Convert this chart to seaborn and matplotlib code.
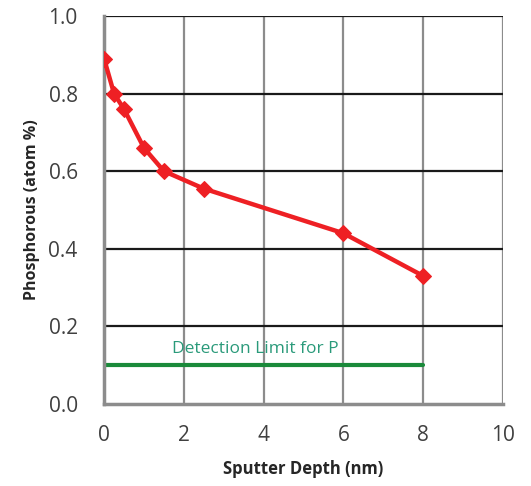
import numpy as np
import pandas as pd
import matplotlib
matplotlib.use("Agg")
import matplotlib.pyplot as plt
import seaborn as sns

# ── Data ──────────────────────────────────────────────
depth_nm = [0.0, 0.25, 0.5, 1.0, 1.5, 2.5, 6.0, 8.0]
phos_pct = [0.89, 0.80, 0.76, 0.66, 0.60, 0.555, 0.44, 0.33]
limit_x = [0.0, 8.0]
limit_y = [0.1, 0.1]
x_ticks = [0, 2, 4, 6, 8, 10]
y_ticks = [0.0, 0.2, 0.4, 0.6, 0.8, 1.0]

sns.set_style("white")
plt.rcParams["font.family"] = ["Open Sans", "DejaVu Sans"]

df = pd.DataFrame({"depth": depth_nm, "phos": phos_pct})
lim = pd.DataFrame({"x": limit_x, "y": limit_y})

fig = plt.figure(figsize=(5.31, 4.86), dpi=100)
ax = fig.add_axes([0.196, 0.169, 0.751, 0.798])

# grid: vertical gray, horizontal black
for xv in x_ticks[1:]:
    ax.axvline(xv, color="#8c8c8c", lw=1.6, zorder=1)
for yv in y_ticks[1:]:
    ax.axhline(yv, color="#1a1a1a", lw=1.6, zorder=1)

sns.lineplot(data=lim, x="x", y="y", color="#1a8a3a", lw=3, ax=ax, zorder=2)
sns.lineplot(data=df, x="depth", y="phos", color="#ee2024", lw=3.2,
             marker="D", markersize=8, markeredgecolor="#ee2024", ax=ax, zorder=3)

ax.text(3.8, 0.142, "Detection Limit for P", color="#2a9a7a",
        fontsize=12.5, ha="center", va="center")

ax.set_xlim(0, 10)
ax.set_ylim(0, 1.0)
ax.set_xticks(x_ticks)
ax.set_yticks(y_ticks)
ax.set_yticklabels([f"{v:.1f}" for v in y_ticks])

for side in ["top", "right"]:
    ax.spines[side].set_visible(False)
ax.spines["left"].set_color("#8c8c8c")
ax.spines["left"].set_linewidth(2.5)
ax.spines["bottom"].set_color("#8c8c8c")
ax.spines["bottom"].set_linewidth(2.5)

ax.tick_params(axis="both", which="both", direction="out", length=5, width=1.5,
               color="#8c8c8c", labelsize=15, labelcolor="#404040")
ax.tick_params(axis="y", pad=14)
ax.tick_params(axis="x", pad=10)

ax.set_xlabel("Sputter Depth (nm)", fontsize=12, fontweight="bold", color="#262626", labelpad=10)
ax.set_ylabel("Phosphorous (atom %)", fontsize=11.5, fontweight="bold", color="#262626", labelpad=6)

fig.savefig("out.png", dpi=100)
